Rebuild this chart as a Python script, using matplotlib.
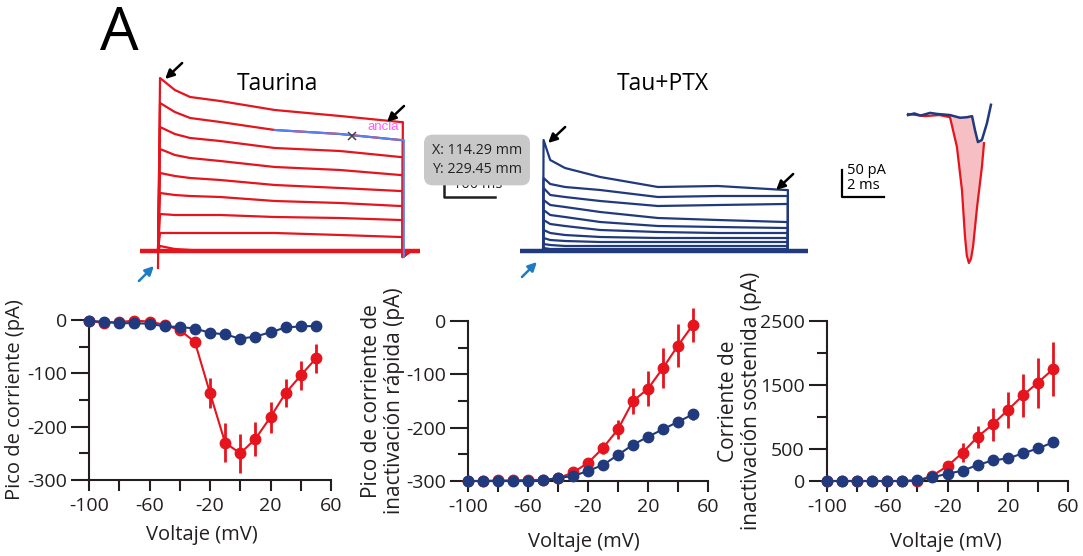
import matplotlib
matplotlib.use("Agg")
import matplotlib.pyplot as plt
from matplotlib.ticker import FixedLocator

plt.rcParams['font.family'] = ['Open Sans', 'DejaVu Sans']

RED = '#e5141d'
NAVY = '#213a7d'
ARROW_BLUE = '#1e7cc4'
OVERLAY = '#5a80f0'
INK = '#231f20'

# ---- I-V curves (mV / pA) ----
voltage = [-100, -90, -80, -70, -60, -50, -40, -30, -20, -10, 0, 10, 20, 30, 40, 50]

peak_tau = [-2, -5, -4, -1, -3, -9, -19, -41, -137, -230, -250, -223, -182, -137, -104, -72]
peak_tau_err = [0, 0, 0, 0, 0, 1, 3, 5, 28, 37, 37, 32, 29, 27, 28, 27]
peak_ptx = [-2, -3, -6, -6, -7, -12, -13, -16, -24, -27, -35, -31, -23, -14, -12, -11]
peak_ptx_err = [0, 0, 0, 0, 0, 2, 3, 4, 6, 7, 6, 4, 3, 2, 2, 2]

fast_tau = [-300, -300, -299, -299, -298, -298, -295, -284, -266, -238, -203, -150, -127, -88, -46, -7]
fast_tau_err = [0, 0, 0, 0, 0, 0, 0, 2, 4, 11, 18, 24, 33, 38, 40, 32]
fast_ptx = [-300, -300, -300, -300, -300, -299, -294, -291, -281, -270, -251, -232, -217, -203, -189, -175]
fast_ptx_err = [0, 0, 0, 0, 0, 0, 1, 2, 3, 4, 4, 4, 5, 6, 7, 10]

sust_tau = [0, 0, 0, 0, 0, 0, 5, 83, 234, 442, 691, 884, 1107, 1336, 1538, 1746]
sust_tau_err = [0, 0, 0, 0, 0, 0, 0, 10, 30, 145, 175, 255, 280, 330, 390, 425]
sust_ptx = [0, 0, 0, 0, 0, 0, 10, 57, 114, 161, 250, 322, 353, 431, 509, 603]
sust_ptx_err = [0, 0, 0, 0, 0, 0, 0, 5, 10, 15, 20, 25, 30, 40, 45, 55]

# ---- current traces (ms / pA), step from 0 to 480 ms ----
step_end = 480
red_times = [4, 33, 63, 122, 229, 357, 475]
red_traces = [
    [1730, 1610, 1540, 1500, 1410, 1350, 1290],
    [1480, 1390, 1330, 1290, 1210, 1170, 1110],
    [1240, 1170, 1130, 1100, 1030, 1000, 940],
    [1020, 960, 930, 900, 840, 810, 760],
    [780, 750, 730, 710, 660, 630, 600],
    [580, 560, 550, 540, 500, 480, 450],
    [370, 360, 360, 360, 340, 330, 310],
    [180, 180, 180, 180, 180, 160, 140],
    [50, 20, 10, 0, 0, 0, -10],
]
red_start_dip = -170
red_tail = -60

blue_shift = 755
blue_times = [1, 14, 43, 112, 225, 343, 475]
blue_traces = [
    [1110, 910, 830, 740, 640, 650, 610],
    [730, 670, 640, 610, 540, 550, 550],
    [630, 560, 540, 500, 450, 460, 470],
    [510, 460, 440, 390, 330, 310, 290],
    [410, 360, 340, 290, 250, 240, 230],
    [310, 270, 250, 210, 190, 180, 180],
    [210, 180, 160, 140, 130, 130, 130],
    [130, 110, 100, 90, 90, 90, 90],
    [70, 60, 50, 50, 50, 50, 50],
    [30, 20, 20, 20, 20, 20, 20],
]

# inset (ms / pA)
inset_red_t = [0, 0.8, 1.5, 2.0, 2.33, 2.57, 2.71, 2.8, 2.9, 3.0, 3.1, 3.29, 3.52, 3.62]
inset_red_i = [0, -4, -2, -6, -61, -141, -225, -262, -276, -268, -245, -172, -98, -54]
inset_blue_t = [0, 0.3, 0.6, 1.05, 1.4, 2.0, 2.48, 2.81, 3.05, 3.19, 3.33, 3.52, 3.76, 3.95]
inset_blue_i = [-2, 1, -3, 2, 0, -2, -7, -6, -4, -30, -52, -48, -17, 17]

W, H = 1083, 556
fig = plt.figure(figsize=(W / 100, H / 100), dpi=100)


def px_axes(x0, y0, x1, y1):
    return fig.add_axes([x0 / W, 1 - y1 / H, (x1 - x0) / W, (y1 - y0) / H])


# ---------------- traces ----------------
tr = px_axes(120, 60, 830, 290)
tr.set_xlim(-74.5, 1317.6)
tr.set_ylim(-390, 1910)
tr.axis('off')

tr.plot([-35, 514], [0, 0], color=RED, lw=3.2, solid_capstyle='butt')
for k, vals in enumerate(red_traces):
    t = [0] + red_times + [step_end, step_end, step_end + 15]
    y = [red_start_dip if k == 0 else 0] + vals + [vals[-1], red_tail, 0]
    tr.plot(t, y, color=RED, lw=1.6)

# measurement overlay on second trace
tr.plot(red_times[4:] + [step_end + 2, step_end + 2],
        red_traces[1][4:] + [red_traces[1][-1], red_tail], color=OVERLAY, lw=1.5)
tr.plot(380, 1150, marker='x', color='#444444', ms=6, mew=1.1)
tr.text(410, 1240, 'ancla', color='#ff5cff', fontsize=9.5,
        family=['Liberation Sans', 'DejaVu Sans'], va='center')

tr.plot([-45 + blue_shift, 520 + blue_shift], [0, 0], color=NAVY, lw=3.2, solid_capstyle='butt')
for vals in blue_traces:
    t = [blue_shift] + [blue_shift + x for x in blue_times] + [blue_shift + step_end] * 2
    y = [0] + vals + [vals[-1], 0]
    tr.plot(t, y, color=NAVY, lw=1.6)

tr.text(235, 1670, 'Taurina', fontsize=16.5, ha='center', va='center', color='k')
tr.text(990, 1670, 'Tau+PTX', fontsize=16.5, ha='center', va='center', color='k')

# scale bar (partly hidden by the tooltip box)
tr.plot([561, 561, 661], [1040, 540, 540], color=INK, lw=1.8)
tr.text(578, 660, '100 ms', fontsize=10.5, va='center', color=INK)
tr.text(537, 910, 'X: 114.29 mm\nY: 229.45 mm', fontsize=10.3, va='center', ha='left',
        color='#222222', linespacing=1.45, zorder=5,
        bbox=dict(boxstyle='round,pad=0.55,rounding_size=0.6', fc='#c8c8c8', ec='none'))

arrow_k = dict(arrowstyle='-|>', color='k', lw=1.8, mutation_scale=13, shrinkA=0, shrinkB=0)
arrow_b = dict(arrowstyle='-|>', color=ARROW_BLUE, lw=1.8, mutation_scale=13, shrinkA=0, shrinkB=0)
for xy in [(14, 1720), (449, 1290), (765, 1080), (1212, 610)]:
    tr.annotate('', xy=xy, xytext=(17, 16), textcoords='offset pixels', arrowprops=arrow_k)
for xy in [(-8, -150), (743, -110)]:
    tr.annotate('', xy=xy, xytext=(-15, -15), textcoords='offset pixels', arrowprops=arrow_b)

# ---------------- inset ----------------
ins = px_axes(830, 90, 1000, 280)
ins.set_xlim(-3.714, 4.381)
ins.set_ylim(-307.4, 44.4)
ins.axis('off')
i0 = inset_red_t.index(2.0)
j1 = inset_blue_t.index(3.52)
ins.fill(inset_red_t[i0:] + inset_blue_t[j1:4:-1] + [2.0],
         inset_red_i[i0:] + inset_blue_i[j1:4:-1] + [inset_red_i[i0]],
         color='#f5bfc3', lw=0)
ins.plot(inset_red_t, inset_red_i, color=RED, lw=1.6)
ins.plot(inset_blue_t, inset_blue_i, color=NAVY, lw=1.8)
ins.plot([-3.14, -3.14, -1.14], [-104, -154, -154], color='k', lw=1.6)
ins.text(-2.9, -104, '50 pA', fontsize=10.5, va='center', color='k')
ins.text(-2.9, -133, '2 ms', fontsize=10.5, va='center', color='k')

fig.text(100 / W, 1 - 34 / H, 'A', fontsize=44, va='center', ha='left')


# ---------------- I-V panels ----------------
def iv_axes(box, ylim, major, labels, minor, ylabel, ylab_x, xlab_x, xlab_y, ylab_size=15):
    ax = px_axes(*box)
    ax.set_xlim(-100, 60)
    ax.set_ylim(*ylim)
    for s in ['top', 'right']:
        ax.spines[s].set_visible(False)
    for s in ['left', 'bottom']:
        ax.spines[s].set_linewidth(1.5)
        ax.spines[s].set_color(INK)
    ax.set_xticks(list(range(-100, 61, 20)))
    ax.set_xticklabels(['-100', '', '-60', '', '-20', '', '20', '', '60'])
    ax.set_yticks(major)
    ax.set_yticklabels(labels)
    ax.yaxis.set_minor_locator(FixedLocator(minor))
    ax.tick_params(axis='x', length=8, width=1.5, pad=4, labelsize=14, color=INK, labelcolor=INK)
    ax.tick_params(axis='y', which='major', length=13, width=1.5, pad=3, labelsize=14,
                   color=INK, labelcolor=INK)
    ax.tick_params(axis='y', which='minor', length=7, width=1.5, color=INK)
    ax.set_ylabel(ylabel, fontsize=ylab_size, va='center', ha='center', linespacing=1.15, color=INK)
    ax.yaxis.set_label_coords(ylab_x, 0.5)
    ax.set_xlabel('Voltaje (mV)', fontsize=14.5, va='center', color=INK)
    ax.xaxis.set_label_coords(xlab_x, xlab_y)
    ax.patch.set_alpha(0)
    return ax


def series(ax, vals, err, color, z):
    eb = ax.errorbar(voltage, vals, yerr=err, fmt='-o', color=color, ms=7.5, lw=1.5,
                     elinewidth=2, capsize=0, zorder=z)
    for a in eb.get_children():
        a.set_clip_on(False)


ax1 = iv_axes((89, 320, 331, 480), (-300, 0), [0, -100, -200, -300],
              ['0', '-100', '-200', '-300'], [-50, -150, -250],
              'Pico de corriente (pA)', -0.305, 0.467, -0.344, ylab_size=14.5)
series(ax1, peak_tau, peak_tau_err, RED, 3)
series(ax1, peak_ptx, peak_ptx_err, NAVY, 4)

ax2 = iv_axes((468, 321, 708, 481), (-300, 0), [0, -100, -200, -300],
              ['0', '-100', '-200', '-300'], [-50, -150, -250],
              'Pico de corriente de\ninactivación rápida (pA)', -0.354, 0.483, -0.381)
series(ax2, fast_tau, fast_tau_err, RED, 3)
series(ax2, fast_ptx, fast_ptx_err, NAVY, 4)

ax3 = iv_axes((827, 321, 1068, 481), (0, 2500), [0, 500, 1500, 2500],
              ['0', '500', '1500', '2500'], [1000, 2000],
              'Corriente de\ninactivación sostenida (pA)', -0.361, 0.494, -0.381)
series(ax3, sust_tau, sust_tau_err, RED, 3)
series(ax3, sust_ptx, sust_ptx_err, NAVY, 4)

fig.savefig('out.png', dpi=100)
